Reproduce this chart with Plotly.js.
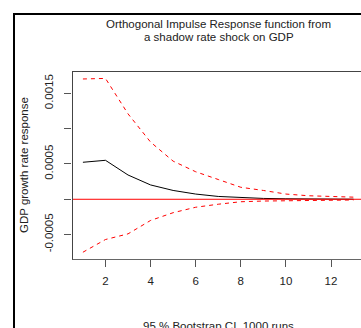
<!DOCTYPE html>
<html>
<head>
<meta charset="utf-8">
<script src="https://cdn.plot.ly/plotly-3.0.1.min.js"></script>
<style>
html,body{margin:0;padding:0;background:#fff;overflow:hidden;}
#wrap{position:relative;width:361px;height:328px;overflow:hidden;}
#chart{position:absolute;left:0;top:0;width:361px;height:328px;}
#outer{position:absolute;left:13px;top:13px;width:420px;height:420px;border-left:2px solid #000;border-top:2px solid #000;pointer-events:none;}
#box{position:absolute;left:72px;top:71px;width:400px;height:187px;border-left:1px solid #444;border-top:1px solid #444;border-bottom:1px solid #666;pointer-events:none;}
</style>
</head>
<body>
<div id="wrap">
<div id="chart"></div>
<div id="box"></div>
<div id="outer"></div>
</div>
<script>
// Horizon (periods)
var periods = [1,2,3,4,5,6,7,8,9,10,11,12,13];
// Orthogonal impulse response of GDP growth to shadow rate shock
var irf = [0.000524, 0.000552, 0.000344, 0.000203, 0.000125, 0.000074, 0.000040, 0.000022, 0.000012, 0.000007, 0.000004, 0.000002, 0.000001];
// 95% bootstrap CI bounds
var upper = [0.001704, 0.001712, 0.00121, 0.00081, 0.00054, 0.00039, 0.00028, 0.00017, 0.000125, 0.000074, 0.00005, 0.000035, 0.00003];
var lower = [-0.00075, -0.00057, -0.00049, -0.0003, -0.00019, -0.000113, -0.00007, -0.000035, -0.000025, -0.00002, -0.00001, -0.00001, -0.00001];
// Tick labels
var xTickVals = [2,4,6,8,10,12];
var yTickVals = [-0.0005, 0, 0.0005, 0.001, 0.0015];
var yTickText = ['-0.0005', '', '0.0005', '', '0.0015'];

var titleLine1 = 'Orthogonal Impulse Response function from';
var titleLine2 = 'a shadow rate shock on GDP';
var yTitle = 'GDP growth rate response';
var xLabel = '95 % Bootstrap CI, 1000 runs';

var font = {family: '"Liberation Sans", Arial, sans-serif', size: 11.5, color: '#222'};

var traces = [
  {x: periods, y: upper, mode: 'lines', line: {color: '#ff0000', width: 1, dash: '4px,4px'}, hoverinfo: 'skip'},
  {x: periods, y: lower, mode: 'lines', line: {color: '#ff0000', width: 1, dash: '4px,4px'}, hoverinfo: 'skip'},
  {x: periods, y: irf, mode: 'lines', line: {color: '#000000', width: 1}, hoverinfo: 'skip'}
];

var layout = {
  width: 361, height: 328,
  margin: {l: 72, r: 0, t: 71, b: 69, pad: 0},
  paper_bgcolor: '#fff', plot_bgcolor: '#fff',
  showlegend: false,
  font: font,
  xaxis: {
    range: [0.516, 13.33], showgrid: false, zeroline: false, showline: false,
    ticks: 'outside', ticklen: 7, tickcolor: '#555', tickwidth: 1,
    ticklabelstandoff: 4,
    tickvals: xTickVals, tickfont: font, automargin: false
  },
  yaxis: {
    range: [-0.000846, 0.001817], showgrid: false, zeroline: false, showline: false,
    ticks: 'outside', ticklen: 7, tickcolor: '#555', tickwidth: 1,
    ticklabelstandoff: 6,
    tickvals: yTickVals, ticktext: yTickText, tickangle: -90, tickfont: font, automargin: false
  },
  annotations: [
    {text: titleLine1, xref: 'paper', yref: 'paper', x: 0.507, y: 1.252, xanchor: 'center', yanchor: 'middle', showarrow: false, font: font},
    {text: titleLine2, xref: 'paper', yref: 'paper', x: 0.507, y: 1.183, xanchor: 'center', yanchor: 'middle', showarrow: false, font: font},
    {text: yTitle, xref: 'paper', yref: 'paper', x: -0.166, y: 0.5, xanchor: 'center', yanchor: 'middle', textangle: -90, showarrow: false, font: font},
    {text: xLabel, xref: 'paper', yref: 'paper', x: 0.507, y: -0.355, xanchor: 'center', yanchor: 'middle', showarrow: false, font: font}
  ],
  shapes: [
    // zero reference line (abline)
    {type: 'line', xref: 'paper', yref: 'y', x0: 0, x1: 1, y0: 0, y1: 0, layer: 'above', line: {color: '#ff0000', width: 1}}
  ]
};

Plotly.newPlot('chart', traces, layout, {displayModeBar: false, staticPlot: true});
</script>
</body>
</html>
